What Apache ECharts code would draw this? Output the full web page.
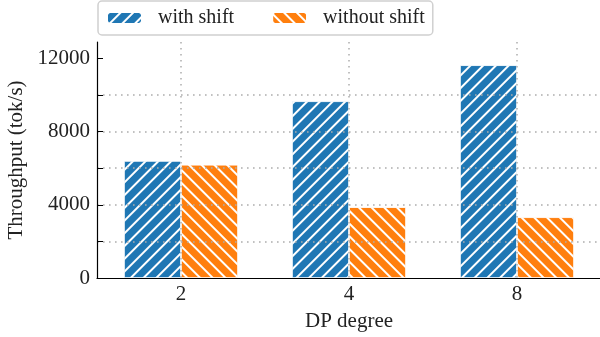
<!DOCTYPE html>
<html><head><meta charset="utf-8">
<script src="https://cdn.jsdelivr.net/npm/echarts@6/dist/echarts.min.js"></script>
<style>html,body{margin:0;padding:0;background:#fff}#c{width:600px;height:337px}</style>
</head><body><div id="c"></div>
<script>
const categories = ['2', '4', '8'];
const withShift = [6400, 9660, 11630];
const withoutShift = [6190, 3870, 3320];
const yLabelValues = [0, 4000, 8000, 12000];
const yTickValues = [0, 2000, 4000, 6000, 8000, 10000, 12000];
const seriesNames = ['with shift', 'without shift'];

const FONT = 'Liberation Serif';
const chart = echarts.init(document.getElementById('c'), null, {renderer: 'canvas'});
const gridColor = '#adadad';
chart.setOption({
  animation: false,
  textStyle: {fontFamily: FONT},
  legend: {
    left: 98, top: 1,
    itemWidth: 35, itemHeight: 12, itemGap: 37,
    padding: [7, 8, 7, 8],
    borderColor: '#d0d0d0', borderWidth: 1.5, borderRadius: 4,
    textStyle: {fontFamily: FONT, fontSize: 20, color: '#222', padding: [0, 0, 0, 11]},
    data: seriesNames
  },
  grid: {left: 97, top: 42, width: 504, height: 236, outerBoundsMode: 'none', containLabel: false},
  xAxis: {
    type: 'category', data: categories, z: 5,
    name: 'DP degree', nameLocation: 'middle', nameGap: 33,
    nameTextStyle: {fontFamily: FONT, fontSize: 21, color: '#222'},
    axisLine: {lineStyle: {color: '#000', width: 1.2}},
    axisTick: {inside: true, alignWithLabel: true, length: 6, lineStyle: {color: '#000', width: 1}},
    axisLabel: {fontFamily: FONT, fontSize: 21, color: '#222', margin: 6},
    splitLine: {show: true, alignWithLabel: true, lineStyle: {color: gridColor, type: [1.6, 4.4], width: 1.5}}
  },
  yAxis: {
    type: 'value', min: 0, max: 12900, interval: 2000, z: 5,
    name: 'Throughput (tok/s)', nameLocation: 'middle', nameGap: 66,
    nameTextStyle: {fontFamily: FONT, fontSize: 21, color: '#222'},
    axisLine: {show: true, lineStyle: {color: '#000', width: 1.2}},
    axisTick: {show: true, inside: true, length: 6, customValues: yTickValues, lineStyle: {color: '#000', width: 1}},
    axisLabel: {fontFamily: FONT, fontSize: 21, color: '#222', margin: 7, customValues: yLabelValues,
      formatter: v => String(v)},
    splitLine: {show: true, showMinLine: false, showMaxLine: false, lineStyle: {color: gridColor, type: [1.6, 4.4], width: 1.5}}
  },
  series: [
    {
      name: seriesNames[0], type: 'bar', data: withShift,
      barWidth: 57, barGap: '0%',
      itemStyle: {color: '#1f77b4', borderColor: '#fff', borderWidth: 0.6,
        decal: {symbol: 'rect', symbolSize: 1, dashArrayX: [1, 0], dashArrayY: [1.7, 6.5], rotation: -Math.PI / 4, color: '#ffffff'}}
    },
    {
      name: seriesNames[1], type: 'bar', data: withoutShift,
      barWidth: 57, barGap: '0%',
      itemStyle: {color: '#ff7f0e', borderColor: '#fff', borderWidth: 0.6,
        decal: {symbol: 'rect', symbolSize: 1, dashArrayX: [1, 0], dashArrayY: [1.7, 6.5], rotation: Math.PI / 4, color: '#ffffff'}}
    }
  ]
});
</script></body></html>
